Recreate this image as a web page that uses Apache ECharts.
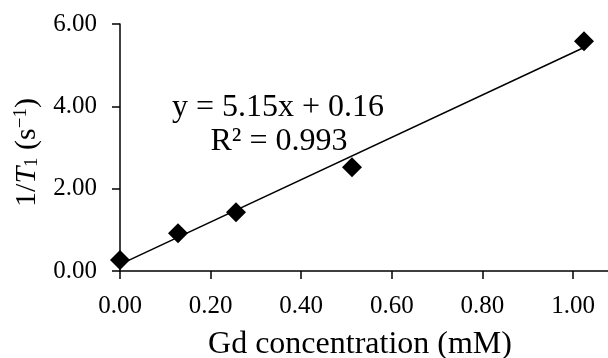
<!DOCTYPE html>
<html>
<head>
<meta charset="utf-8">
<script src="https://cdn.jsdelivr.net/npm/echarts@6/dist/echarts.min.js"></script>
<style>html,body{margin:0;padding:0;background:#fff;}#c{width:608px;height:358px;}</style>
</head>
<body>
<div id="c"></div>
<script>
const gdConc = [0, 0.128, 0.256, 0.512, 1.024];
const invT1 = [0.27, 0.92, 1.43, 2.52, 5.58];
const trendX = [0, 1.024];
const trendY = [0.16, 5.43];
const xTickValues = [0, 0.2, 0.4, 0.6, 0.8, 1.0];
const xTicks = ['0.00', '0.20', '0.40', '0.60', '0.80', '1.00'];
const yTicks = ['0.00', '2.00', '4.00', '6.00'];
const eqLine1 = 'y = 5.15x + 0.16';
const eqLine2 = 'R² = 0.993';

const FONT = '"Liberation Serif", "DejaVu Serif", serif';
const chart = echarts.init(document.getElementById('c'), null, {renderer: 'canvas'});
chart.setOption({
  animation: false,
  backgroundColor: '#fff',
  grid: {left: 120, top: 24, bottom: 87, right: 0, containLabel: false, outerBoundsMode: 'none'},
  xAxis: {
    type: 'value', min: 0, max: 1.077, interval: 0.2,
    axisLine: {show: true, onZero: false, lineStyle: {color: '#000', width: 1.5}},
    axisTick: {show: true, length: 8, customValues: xTickValues, lineStyle: {color: '#000', width: 1.5}},
    splitLine: {show: false},
    axisLabel: {
      margin: 23, color: '#000', fontFamily: FONT, fontSize: 25,
      customValues: xTickValues,
      formatter: v => { const i = xTickValues.findIndex(t => Math.abs(t - v) < 1e-6); return i >= 0 ? xTicks[i] : ''; }
    },
    name: 'Gd concentration (mM)', nameLocation: 'middle', nameGap: 58,
    nameTextStyle: {color: '#000', fontFamily: FONT, fontSize: 32, padding: [0, 8, 0, 0]}
  },
  yAxis: {
    type: 'value', min: 0, max: 6, interval: 2,
    axisLine: {show: true, lineStyle: {color: '#000', width: 1.5}},
    axisTick: {show: true, length: 8, lineStyle: {color: '#000', width: 1.5}},
    splitLine: {show: false},
    axisLabel: {
      margin: 23, color: '#000', fontFamily: FONT, fontSize: 25,
      formatter: v => { const i = Math.round(v / 2); return yTicks[i] !== undefined ? yTicks[i] : ''; }
    },
    name: '{a|1/}{i|T}{sub|1}{a| (s}{sup|−1}{a|)}', nameLocation: 'middle', nameGap: 78, nameRotate: 90,
    nameTextStyle: {
      color: '#000', fontFamily: FONT, fontSize: 30, padding: [0, 10, 0, 0],
      rich: {
        a: {fontFamily: FONT, fontSize: 30, color: '#000'},
        i: {fontFamily: FONT, fontSize: 30, fontStyle: 'italic', color: '#000'},
        sub: {fontFamily: FONT, fontSize: 19, color: '#000', verticalAlign: 'bottom', padding: [11, 0, 0, 0]},
        sup: {fontFamily: FONT, fontSize: 19, color: '#000', verticalAlign: 'top', padding: [0, 0, 11, 0]}
      }
    }
  },
  series: [
    {
      type: 'line', data: trendX.map((x, i) => [x, trendY[i]]),
      symbol: 'none', lineStyle: {color: '#000', width: 1.5}, z: 2, silent: true
    },
    {
      type: 'scatter', data: gdConc.map((x, i) => [x, invT1[i]]),
      symbol: 'diamond', symbolSize: 20, itemStyle: {color: '#000', opacity: 1}, z: 3
    }
  ],
  graphic: [
    {type: 'text', x: 278, y: 92, style: {text: eqLine1, font: '32px ' + FONT, fill: '#000', align: 'center', verticalAlign: 'top'}},
    {type: 'text', x: 279, y: 126, style: {text: eqLine2, font: '32px ' + FONT, fill: '#000', align: 'center', verticalAlign: 'top'}}
  ]
});
</script>
</body>
</html>
